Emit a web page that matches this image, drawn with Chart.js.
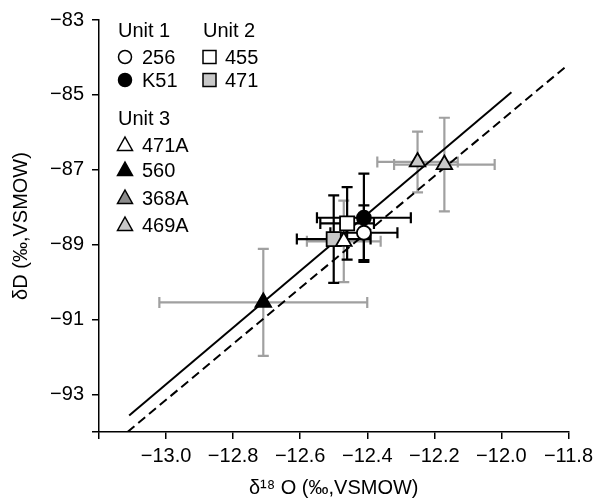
<!DOCTYPE html>
<html>
<head>
<meta charset="utf-8">
<script src="https://cdn.jsdelivr.net/npm/chart.js@4/dist/chart.umd.min.js"></script>
<style>
  html, body { margin:0; padding:0; background:#fff; }
  #wrap { width:598px; height:502px; }
</style>
</head>
<body>
<div id="wrap"><canvas id="c" width="598" height="502"></canvas></div>
<script>
// ---- data ----
const samples = ['256', 'K51', '455', '471', '471A', '560', '469A', '469A'];
const units   = [1, 1, 2, 2, 3, 3, 3, 3];
const d18O    = [-12.41, -12.41, -12.46, -12.50, -12.47, -12.71, -12.25, -12.17];
const dD      = [-88.68, -88.28, -88.43, -88.85, -88.91, -90.54, -86.79, -86.86];
const errO    = [0.10, 0.14, 0.08, 0.11, 0.11, 0.31, 0.12, 0.15];
const errD    = [0.73, 1.18, 0.97, 1.17, 1.09, 1.43, 0.81, 1.25];

// regression lines (end points)
const solidX = [-13.11, -11.97];
const solidY = [-93.56, -84.93];
const dashX  = [-13.115, -11.81];
const dashY  = [-94.0, -84.26];

// legend groups
const unitNames    = ['Unit 1', 'Unit 2', 'Unit 3'];
const unit1Samples = ['256', 'K51'];
const unit2Samples = ['455', '471'];
const unit3Samples = ['471A', '560', '368A', '469A'];

// axes
const xMin = -13.2, xMax = -11.8;
const yMin = -94, yMax = -83;
const xTicks = [-13.0, -12.8, -12.6, -12.4, -12.2, -12.0, -11.8];
const yTicks = [-93, -91, -89, -87, -85, -83];

// ---- styles ----
const FONT = '"Liberation Sans", Arial, Helvetica, sans-serif';
const markerStyle = {
  '256':  { shape: 'circle',   fill: '#ffffff' },
  'K51':  { shape: 'circle',   fill: '#000000' },
  '455':  { shape: 'rect',     fill: '#ffffff' },
  '471':  { shape: 'rect',     fill: '#c8c8c8' },
  '471A': { shape: 'triangle', fill: '#ffffff' },
  '560':  { shape: 'triangle', fill: '#000000' },
  '368A': { shape: 'triangle', fill: '#8c8c8c' },
  '469A': { shape: 'triangle', fill: '#c8c8c8' }
};
const pointSize = { circle: 7, rect: 10, triangle: 9 };
const drawOrder = { circle: 1, triangle: 2, rect: 3 };
const barColor = { 1: '#000000', 2: '#000000', 3: '#a0a0a0' };

const minus = s => s.replace('-', '\u2212');

// one scatter dataset per sample name
const allSamples = [...unit1Samples, ...unit2Samples, ...unit3Samples];
const pointSets = allSamples.map(name => {
  const st = markerStyle[name];
  const pts = [];
  samples.forEach((s, i) => { if (s === name) pts.push({ x: d18O[i], y: dD[i] }); });
  return {
    label: name, data: pts, type: 'scatter',
    pointStyle: st.shape, pointRadius: pointSize[st.shape], pointHoverRadius: pointSize[st.shape],
    backgroundColor: st.fill, borderColor: '#000', borderWidth: 1.8,
    order: drawOrder[st.shape] + (name === '256' ? -0.5 : 0)
  };
});

const lineSets = [
  { label: 'solid', type: 'scatter', showLine: true, pointRadius: 0, borderColor: '#000', borderWidth: 2,
    data: solidX.map((x, i) => ({ x, y: solidY[i] })), order: 10 },
  { label: 'dashed', type: 'scatter', showLine: true, pointRadius: 0, borderColor: '#000', borderWidth: 2,
    borderDash: [9, 5], data: dashX.map((x, i) => ({ x, y: dashY[i] })), order: 10 }
];

// error bars, drawn under the lines and markers
const errorBars = {
  id: 'errorBars',
  beforeDatasetsDraw(chart) {
    const { ctx, scales: { x, y } } = chart;
    const cap = 5.5;
    ctx.save();
    ctx.lineWidth = 2.2;
    [3, 2, 1].forEach(u => {
      samples.forEach((s, i) => {
        if (units[i] !== u) return;
        ctx.strokeStyle = barColor[u];
        const cx = x.getPixelForValue(d18O[i]), cy = y.getPixelForValue(dD[i]);
        const x0 = x.getPixelForValue(d18O[i] - errO[i]), x1 = x.getPixelForValue(d18O[i] + errO[i]);
        const y0 = y.getPixelForValue(dD[i] - errD[i]), y1 = y.getPixelForValue(dD[i] + errD[i]);
        ctx.beginPath();
        ctx.moveTo(x0, cy); ctx.lineTo(x1, cy);
        ctx.moveTo(x0, cy - cap); ctx.lineTo(x0, cy + cap);
        ctx.moveTo(x1, cy - cap); ctx.lineTo(x1, cy + cap);
        ctx.moveTo(cx, y0); ctx.lineTo(cx, y1);
        ctx.moveTo(cx - cap, y0); ctx.lineTo(cx + cap, y0);
        ctx.moveTo(cx - cap, y1); ctx.lineTo(cx + cap, y1);
        ctx.stroke();
      });
    });
    ctx.restore();
  }
};

// legend in the upper left corner
function drawMarker(ctx, shape, fill, cx, cy) {
  ctx.beginPath();
  if (shape === 'circle') ctx.arc(cx, cy, 6.5, 0, Math.PI * 2);
  else if (shape === 'rect') ctx.rect(cx - 6.5, cy - 6.5, 13, 13);
  else { ctx.moveTo(cx, cy - 8); ctx.lineTo(cx + 7.5, cy + 5.5); ctx.lineTo(cx - 7.5, cy + 5.5); ctx.closePath(); }
  ctx.fillStyle = fill; ctx.fill();
  ctx.lineWidth = 1.5; ctx.strokeStyle = '#000'; ctx.stroke();
}
const legendBox = {
  id: 'legendBox',
  afterDraw(chart) {
    const ctx = chart.ctx;
    ctx.save();
    ctx.font = '20px ' + FONT;
    ctx.fillStyle = '#000';
    ctx.textBaseline = 'alphabetic';
    const col1 = 118, col2 = 203;
    ctx.fillText(unitNames[0], col1, 37);
    ctx.fillText(unitNames[1], col2, 37);
    ctx.fillText(unitNames[2], col1, 125);
    const rows1 = [64, 87];
    const rows3 = [152, 177, 205, 232];
    unit1Samples.forEach((n, k) => {
      drawMarker(ctx, markerStyle[n].shape, markerStyle[n].fill, 125, rows1[k] - 7);
      ctx.fillStyle = '#000'; ctx.fillText(n, 142, rows1[k]);
    });
    unit2Samples.forEach((n, k) => {
      drawMarker(ctx, markerStyle[n].shape, markerStyle[n].fill, 209.5, rows1[k] - 7);
      ctx.fillStyle = '#000'; ctx.fillText(n, 225, rows1[k]);
    });
    unit3Samples.forEach((n, k) => {
      drawMarker(ctx, markerStyle[n].shape, markerStyle[n].fill, 125, rows3[k] - 7);
      ctx.fillStyle = '#000'; ctx.fillText(n, 142, rows3[k]);
    });
    ctx.restore();
  }
};

new Chart(document.getElementById('c'), {
  type: 'scatter',
  data: { datasets: [...pointSets, ...lineSets] },
  options: {
    responsive: false, animation: false, devicePixelRatio: 1,
    layout: { padding: { top: 18, right: 27, left: 0, bottom: 0 } },
    plugins: { legend: { display: false }, tooltip: { enabled: false } },
    scales: {
      x: {
        type: 'linear', min: xMin, max: xMax,
        afterBuildTicks: s => { s.ticks = [xMin, ...xTicks].map(v => ({ value: v })); },
        afterFit: s => { s.height = 70; },
        ticks: { color: '#000', padding: 5, font: { family: FONT, size: 20 },
          callback: v => v === xMin ? '' : minus(v.toFixed(1)) },
        grid: { drawOnChartArea: false, color: '#000', lineWidth: 1.5, tickLength: 7 },
        border: { color: '#000', width: 1.5 },
        title: { display: true, text: '\u03b4\u00b9\u2078 O (\u2030,VSMOW)', color: '#000',
          font: { family: FONT, size: 20 }, padding: { top: 0, bottom: 2 } }
      },
      y: {
        type: 'linear', min: yMin, max: yMax,
        afterBuildTicks: s => { s.ticks = [yMin, ...yTicks].map(v => ({ value: v })); },
        afterFit: s => { s.width = 99; },
        ticks: { color: '#000', padding: 8, font: { family: FONT, size: 20 },
          callback: v => v === yMin ? '' : minus(String(v)) },
        grid: { drawOnChartArea: false, color: '#000', lineWidth: 1.5, tickLength: 7 },
        border: { color: '#000', width: 1.5 },
        title: { display: true, text: '\u03b4D (\u2030,VSMOW)', color: '#000',
          font: { family: FONT, size: 20 }, padding: { top: 9, bottom: 0 } }
      }
    }
  },
  plugins: [errorBars, legendBox]
});
</script>
</body>
</html>
